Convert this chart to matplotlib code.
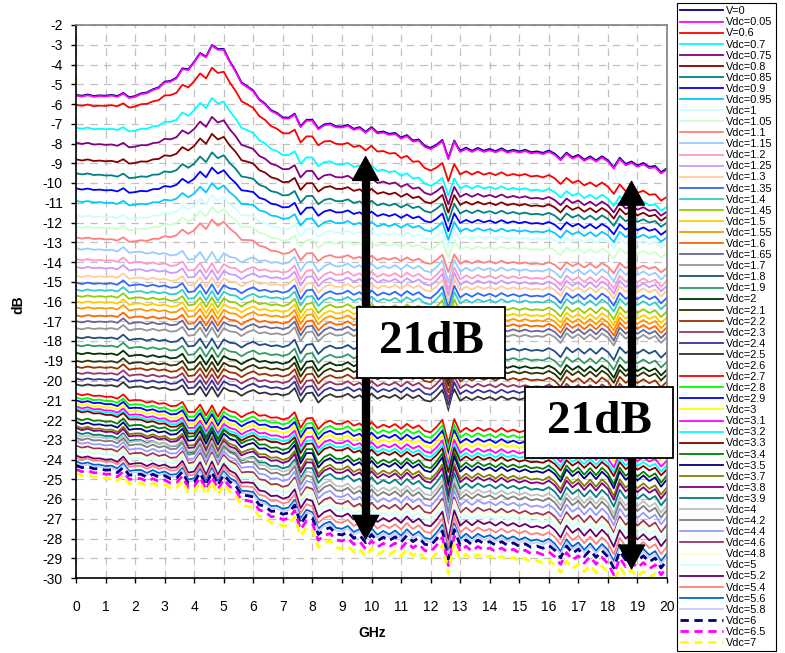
import numpy as np
import matplotlib.pyplot as plt
from matplotlib.patches import Rectangle

plt.rcParams['font.family'] = ['Liberation Sans', 'DejaVu Sans']
plt.rcParams['axes.unicode_minus'] = False

# frequency grid, 0.2 GHz steps
ghz = np.linspace(0, 20, 101)

labels = ['V=0', 'Vdc=0.05', 'V=0.6', 'Vdc=0.7', 'Vdc=0.75', 'Vdc=0.8', 'Vdc=0.85',
          'Vdc=0.9', 'Vdc=0.95', 'Vdc=1', 'Vdc=1.05', 'Vdc=1.1', 'Vdc=1.15', 'Vdc=1.2',
          'Vdc=1.25', 'Vdc=1.3', 'Vdc=1.35', 'Vdc=1.4', 'Vdc=1.45', 'Vdc=1.5', 'Vdc=1.55',
          'Vdc=1.6', 'Vdc=1.65', 'Vdc=1.7', 'Vdc=1.8', 'Vdc=1.9', 'Vdc=2', 'Vdc=2.1',
          'Vdc=2.2', 'Vdc=2.3', 'Vdc=2.4', 'Vdc=2.5', 'Vdc=2.6', 'Vdc=2.7', 'Vdc=2.8',
          'Vdc=2.9', 'Vdc=3', 'Vdc=3.1', 'Vdc=3.2', 'Vdc=3.3', 'Vdc=3.4', 'Vdc=3.5',
          'Vdc=3.7', 'Vdc=3.8', 'Vdc=3.9', 'Vdc=4', 'Vdc=4.2', 'Vdc=4.4', 'Vdc=4.6',
          'Vdc=4.8', 'Vdc=5', 'Vdc=5.2', 'Vdc=5.4', 'Vdc=5.6', 'Vdc=5.8', 'Vdc=6',
          'Vdc=6.5', 'Vdc=7']

# level at 0 GHz and at 20 GHz (dB)
start_db = [-5.54, -5.58, -6.05, -7.2, -7.96, -8.8, -9.5, -10.27, -10.9, -11.65, -12.2, -12.75,
            -13.3, -13.85, -14.25, -14.7, -15.05, -15.4, -15.7, -16.0, -16.3, -16.7, -17.0, -17.35,
            -17.8, -18.2, -18.6, -19.0, -19.3, -19.6, -19.9, -20.2, -20.4,
            -20.65, -20.85, -21.0, -21.15, -21.3, -21.4, -21.5,
            -21.9, -22.1, -22.3, -22.4, -22.6, -22.75, -22.9, -23.1, -23.3, -23.4, -23.55,
            -23.8, -23.9, -24.1, -24.2, -24.3, -24.5, -24.7]
end_db = [-9.25, -9.32, -10.7, -11.2, -11.45, -11.7, -12.0, -12.4, -12.75, -13.05, -13.55, -14.3,
          -14.6, -14.95, -15.2, -15.45, -15.8, -16.1, -16.5, -16.8, -17.05, -17.3, -17.55, -17.8,
          -18.55, -19.05, -19.45, -19.7, -20.05, -20.4, -20.7, -21.05, -21.3,
          -22.9, -23.2, -23.5, -23.75, -24.05, -24.3, -24.5,
          -24.8, -25.0, -25.4, -25.6, -25.95, -26.3, -26.55, -26.9, -27.3, -27.45, -27.7,
          -28.0, -28.4, -28.75, -28.9, -29.1, -29.45, -29.9]
# height of the 4.8 GHz resonance hump (dB)
hump_db = [2.9, 2.9, 2.28, 2.0, 1.88, 1.8, 1.62, 1.52, 1.37, 1.4, 1.36, 1.35,
           0.1, 0, 0, 0, 0, 0, 0, 0, 0, 0, 0, 0,
           0, 0, 0, 0, 0, 0, 0, 0, 0,
           0, 0, 0, 0, 0, 0, 0,
           0.1, 0.1, 0.1, 0.1, 0.1, 0.15, 0.15, 0.15, 0.2, 0.2, 0.2, 0.3, 0.3, 0.35, 0.35,
           0.4, 0.4, 0.4]
# roll-off type: 0 = upper traces, 1 = middle traces, 2 = lower traces
rolloff = [0, 0, 0, 0.15, 0.3, 0.35, 0.55, 0.55, 0.7, 0.7, 0.8, 0.85,
           1, 1, 1, 1, 1, 1, 1, 1, 1, 1, 1, 1,
           1, 1, 1, 1, 1, 1, 1, 1, 1,
           1, 1, 1, 1, 1, 1, 1,
           1.5, 1.5, 1.5, 1.5, 1.5, 2, 2, 2, 2, 2, 2, 2, 2, 2, 2, 2, 2, 2]
ripple_gain = [0.8] * 12 + [1.0] * 21 + [1.1] * 7 + [1.3] * 18

hump_shape = [0, 0, 0, 0, 0, 0, 0, 0, 0, 0,
              0.00, 0.04, 0.08, 0.12, 0.18, 0.26, 0.30, 0.36, 0.46, 0.58,
              0.70, 0.76, 0.84, 0.92, 1.00, 0.88, 0.74, 0.60, 0.48, 0.38,
              0.30, 0.22, 0.15, 0.09, 0.05, 0.02, 0, 0, 0, 0] + [0] * 61

fall_top = [0.00, 0.00, 0.00, 0.01, 0.01, 0.01, 0.01, 0.01, 0.02, 0.02,
            0.02, 0.02, 0.02, 0.03, 0.03, 0.03, 0.03, 0.04, 0.04, 0.05,
            0.05, 0.06, 0.07, 0.08, 0.09, 0.10, 0.12, 0.14, 0.16, 0.18,
            0.20, 0.22, 0.24, 0.26, 0.28, 0.30, 0.31, 0.32, 0.34, 0.35,
            0.36, 0.37, 0.38, 0.40, 0.41, 0.42, 0.43, 0.44, 0.45, 0.46,
            0.47, 0.49, 0.51, 0.52, 0.54, 0.56, 0.58, 0.61, 0.63, 0.66,
            0.68, 0.69, 0.70, 0.71, 0.72, 0.73, 0.73, 0.74, 0.74, 0.75,
            0.75, 0.75, 0.75, 0.76, 0.76, 0.76, 0.76, 0.77, 0.77, 0.78,
            0.78, 0.79, 0.80, 0.82, 0.83, 0.84, 0.85, 0.86, 0.86, 0.87,
            0.88, 0.89, 0.90, 0.92, 0.93, 0.94, 0.95, 0.96, 0.98, 0.99, 1.00]
fall_mid = [0.00, 0.02, 0.03, 0.05, 0.06, 0.08, 0.10, 0.11, 0.13, 0.14,
            0.16, 0.18, 0.19, 0.21, 0.22, 0.24, 0.26, 0.27, 0.29, 0.30,
            0.32, 0.34, 0.35, 0.37, 0.38, 0.40, 0.41, 0.43, 0.44, 0.46,
            0.47, 0.48, 0.50, 0.51, 0.53, 0.54, 0.55, 0.57, 0.58, 0.59,
            0.60, 0.61, 0.62, 0.64, 0.65, 0.66, 0.67, 0.68, 0.70, 0.71,
            0.72, 0.73, 0.73, 0.74, 0.74, 0.75, 0.76, 0.76, 0.77, 0.77,
            0.78, 0.78, 0.79, 0.79, 0.80, 0.80, 0.80, 0.81, 0.81, 0.82,
            0.82, 0.83, 0.83, 0.84, 0.84, 0.85, 0.86, 0.86, 0.87, 0.87,
            0.88, 0.89, 0.89, 0.90, 0.90, 0.91, 0.92, 0.92, 0.93, 0.93,
            0.94, 0.95, 0.95, 0.96, 0.96, 0.97, 0.98, 0.98, 0.99, 0.99, 1.00]
fall_low = [0.00, 0.01, 0.02, 0.03, 0.04, 0.05, 0.06, 0.07, 0.08, 0.09,
            0.10, 0.11, 0.12, 0.12, 0.13, 0.14, 0.15, 0.16, 0.16, 0.17,
            0.18, 0.19, 0.20, 0.20, 0.21, 0.22, 0.24, 0.26, 0.30, 0.35,
            0.39, 0.42, 0.45, 0.47, 0.48, 0.49, 0.50, 0.50, 0.51, 0.54,
            0.58, 0.62, 0.65, 0.67, 0.70, 0.72, 0.73, 0.74, 0.75, 0.76,
            0.77, 0.77, 0.77, 0.78, 0.78, 0.78, 0.78, 0.79, 0.79, 0.79,
            0.79, 0.79, 0.80, 0.80, 0.80, 0.80, 0.80, 0.81, 0.81, 0.81,
            0.82, 0.82, 0.83, 0.83, 0.83, 0.84, 0.84, 0.85, 0.85, 0.86,
            0.87, 0.88, 0.88, 0.89, 0.90, 0.91, 0.92, 0.92, 0.93, 0.94,
            0.95, 0.96, 0.96, 0.97, 0.97, 0.98, 0.98, 0.99, 0.99, 1.00, 1.00]
# common fine structure of the sweep (dB)
ripple = [0.00, -0.05, 0.03, -0.02, 0.02, 0.00, 0.05, -0.02, 0.22, -0.05,
          0.02, 0.05, -0.04, 0.06, -0.03, 0.04, -0.06, -0.02, 0.20, -0.25,
          -0.20, 0.18, -0.30, 0.20, -0.30, 0.18, 0.02, 0.00, -0.20, 0.00,
          0.12, -0.05, 0.02, -0.08, -0.02, -0.10, 0.00, 0.30, -0.40, 0.05,
          0.10, -0.40, -0.10, 0.05, -0.08, -0.05, 0.10, -0.10, 0.05, -0.20,
          0.15, -0.10, 0.05, -0.05, 0.10, -0.10, 0.15, -0.05, 0.10, -0.15,
          -0.20, 0.05, 0.40, -0.70, 0.45, -0.15, 0.05, -0.10, 0.08, -0.05,
          0.06, -0.08, 0.10, -0.05, 0.05, -0.05, 0.05, -0.05, 0.00, -0.05,
          0.10, -0.05, -0.35, 0.15, -0.10, 0.10, -0.15, 0.10, -0.15, 0.15,
          -0.05, -0.45, 0.20, -0.10, 0.10, -0.10, 0.10, -0.10, 0.05, -0.30, 0.00]

colors = ['#000080', '#FF00FF', '#FF0000', '#00FFFF', '#800080', '#800000', '#008080',
          '#0000FF', '#00CCFF', '#CCFFFF', '#CCFFCC', '#FF8080', '#99CCFF', '#FF99CC',
          '#CC99FF', '#FFCC99', '#3366FF', '#33CCCC', '#99CC00', '#FFCC00', '#FF9900',
          '#FF6600', '#666699', '#969696', '#1F4F80', '#339966', '#003300', '#333300',
          '#993300', '#993366', '#333399', '#333333', '#FFFFFF', '#FF0000', '#00FF00',
          '#0000FF', '#FFFF00', '#FF00FF', '#00FFFF', '#800000', '#008000', '#000080',
          '#808000', '#800080', '#008080', '#C0C0C0', '#808080', '#9999FF', '#993366',
          '#FFFFCC', '#CCFFFF', '#660066', '#FF8080', '#0066CC', '#CCCCFF', '#000080',
          '#FF00FF', '#FFFF00']

hump_shape = np.array(hump_shape)
ripple = np.array(ripple)
profiles = [np.array(fall_top), np.array(fall_mid), np.array(fall_low)]


def rolloff_shape(m):
    if m <= 1:
        return (1 - m) * profiles[0] + m * profiles[1]
    return (2 - m) * profiles[1] + (m - 1) * profiles[2]


fig = plt.figure(figsize=(7.85, 6.53), dpi=100)
ax = fig.add_axes([76 / 785, 1 - 578 / 653, 591 / 785, 553 / 653])

n = len(labels)
for i in range(n):
    y = (start_db[i] + (end_db[i] - start_db[i]) * rolloff_shape(rolloff[i])
         + hump_db[i] * hump_shape + ripple_gain[i] * ripple)
    if i >= n - 3:
        ax.plot(ghz, y, color=colors[i], lw=2.0, ls=(0, (3, 2)), label=labels[i])
    else:
        ax.plot(ghz, y, color=colors[i], lw=1.3, label=labels[i])

ax.set_xlim(0, 20)
ax.set_ylim(-30, -2)
ax.set_xticks(range(0, 21))
ax.set_yticks(range(-30, -1))
ax.grid(True, color='#c0c0c0', lw=0.9, ls=(0, (6, 5)))
ax.set_axisbelow(True)
ax.tick_params(direction='out', length=3.5, width=1, labelsize=10, colors='black')
ax.tick_params(axis='y', pad=6)
ax.tick_params(axis='x', pad=12)
for s in ['left', 'bottom']:
    ax.spines[s].set_color('black')
    ax.spines[s].set_linewidth(1.2)
for s in ['top', 'right']:
    ax.spines[s].set_color('#808080')
    ax.spines[s].set_linewidth(1.2)

fig.text(372 / 785, 1 - 633 / 653, 'GHz', ha='center', va='center',
         fontsize=10, fontweight='bold')
fig.text(18 / 785, 1 - 305 / 653, 'dB', ha='center', va='center',
         rotation=90, fontsize=10, fontweight='bold')

# double-headed markers for the 21 dB span
for x, y_top, y_bot in [(9.8, -8.6, -28.1), (18.8, -9.85, -29.6)]:
    ax.plot([x, x], [y_bot + 0.6, y_top - 0.6], color='black', lw=6,
            solid_capstyle='butt', zorder=4)
    for tip, tail in [(y_top, y_top - 1.2), (y_bot, y_bot + 1.2)]:
        ax.annotate('', xy=(x, tip), xytext=(x, tail),
                    arrowprops=dict(arrowstyle='-|>,head_length=1.0,head_width=0.55',
                                    mutation_scale=17, lw=1, color='black',
                                    shrinkA=0, shrinkB=0), zorder=4)

for x0, y0, cx, cy in [(9.51, -19.87, 12.02, -18.07), (15.19, -23.92, 17.70, -22.12)]:
    ax.add_patch(Rectangle((x0, y0), 5.01, 3.59, facecolor='white', edgecolor='black',
                           lw=1.3, zorder=5, clip_on=False))
    ax.text(cx, cy, '21dB', ha='center', va='center', fontsize=34, fontweight='bold',
            family=['Liberation Serif', 'DejaVu Serif'], zorder=6)

leg = fig.legend(loc='upper left', bbox_to_anchor=(677 / 785, 1 - 3 / 653),
                 fontsize=7.8, handlelength=3.9, handletextpad=0.3, labelspacing=0.1,
                 borderpad=0.3, borderaxespad=0, frameon=True, fancybox=False,
                 edgecolor='black', framealpha=1)
leg.get_frame().set_linewidth(0.8)

fig.savefig('out.png', dpi=100)
